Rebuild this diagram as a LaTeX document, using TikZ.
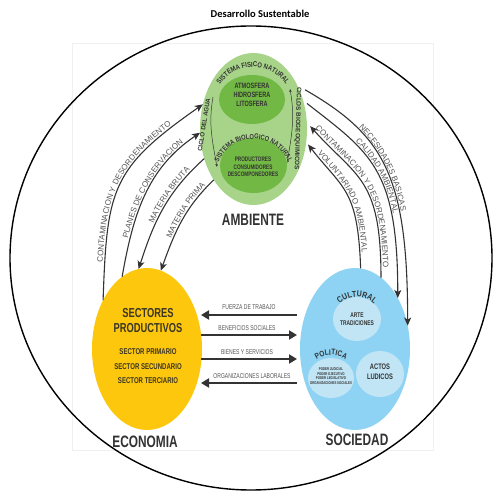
\documentclass[tikz,border=0pt]{standalone}
\usepackage{fontspec}
\setmainfont{Liberation Sans}
\newfontfamily\cnd[FakeStretch=0.72]{Liberation Sans}
\newfontfamily\cndb[FakeStretch=0.82]{Liberation Sans}
\newfontfamily\ttl{Carlito}
\usetikzlibrary{shapes.geometric,arrows.meta,decorations.text}
\definecolor{ambO}{HTML}{A8D48A}
\definecolor{ambI}{HTML}{72B844}
\definecolor{ecoY}{HTML}{FDC70E}
\definecolor{socB}{HTML}{8ED3F4}
\definecolor{socI}{HTML}{C2E5F5}
\definecolor{dtext}{HTML}{333333}
\definecolor{etext}{HTML}{3B3626}
\definecolor{labg}{HTML}{555555}
\definecolor{arrc}{HTML}{333333}
\newcommand\myfs[2]{\fontsize{#1}{#2}\selectfont}
\newcommand\lfont{\myfs{8}{8}\color{labg}}
\begin{document}
\begin{tikzpicture}[x=1pt,y=1pt,
  blob/.style={ellipse, inner sep=0pt, outer sep=0pt, draw=none},
  txt/.style={inner sep=0pt, align=center, text=dtext},
  lbl/.style={inner sep=0pt, text=labg, font=\cnd\myfs{7}{7}},
  curv/.style={draw=arrc, line width=1.1pt},
  fwd/.style={-{Stealth[length=8pt,width=7pt,inset=2pt]}},
  bwd/.style={{Stealth[length=8pt,width=7pt,inset=2pt]}-},
  harr/.style={draw=arrc, line width=1.8pt},
  hf/.style={-{Triangle[length=8pt,width=9pt]}},
  hb/.style={{Triangle[length=8pt,width=9pt]}-},
  thinarr/.style={draw=arrc, line width=0.5pt, -{Stealth[length=3pt,width=2.5pt]}},
]
\useasboundingbox (0,0) rectangle (500,498);
\fill[white] (0,0) rectangle (500,498);
% faint background frame
\draw[black!6, line width=0.6pt] (72,48) rectangle (433,455);
% big circle
\node[ellipse, draw=black, line width=1.4pt, minimum width=482, minimum height=464, inner sep=0pt] (ds) at (251,240) {};
\node[font=\ttl\bfseries\myfs{10.5}{11}] (title) at (260,484) {Desarrollo Sustentable};

% AMBIENTE
\node[blob, fill=ambO, minimum width=107, minimum height=152] (amb) at (253.5,369) {};
\node[blob, fill=ambI, minimum width=66, minimum height=49] (fis) at (252,398.5) {};
\node[blob, fill=ambI, minimum width=67, minimum height=55] (bio) at (253.5,332.5) {};
\node[txt, font=\cnd\bfseries\myfs{7.7}{9}] (fist) at (252,403) {ATMOSFERA\\HIDROSFERA\\LITOSFERA};
\node[txt, font=\cnd\bfseries\myfs{6.5}{7.7}] (biot) at (253,331) {PRODUCTORES\\CONSUMIDORES\\DESCOMPONEDORES};
\path[decorate, decoration={text along path, text align=center,
  text={|\cndb\bfseries\myfs{7.2}{7}\color{dtext}|SISTEMA FISICO NATURAL}}]
  (253,391) ++(165:40) arc[start angle=165, end angle=15, radius=40];
\path[decorate, decoration={text along path, text align=center,
  text={|\cndb\bfseries\myfs{7}{7}\color{dtext}|SISTEMA BIOLOGICO NATURAL}}]
  (253.5,321) ++(170:38) arc[start angle=170, end angle=10, radius=38];
\node[txt, rotate=81, font=\bfseries\myfs{6.2}{6}] (agua) at (204,373) {CICLO DEL AGUA};
\node[txt, rotate=-91.5, font=\bfseries\myfs{6.3}{6}] (bgq) at (297.5,369.5) {CICLOS BIOGEOQUIMICOS};
\coordinate (wa) at (213,401); \coordinate (wb) at (217,331);
\draw[thinarr] (wa) to[out=-100,in=100] (wb);
\coordinate (ba) at (287,335); \coordinate (bb) at (290,409);
\draw[thinarr] (ba) to[out=80,in=-80] (bb);
\node[txt, font=\cnd\bfseries\myfs{16.5}{17}] (ambl) at (253,278) {AMBIENTE};

% ECONOMIA
\node[blob, fill=ecoY, minimum width=110, minimum height=162] (eco) at (147,149) {};
\node[txt, text=etext, font=\cnd\bfseries\myfs{13}{15}] (sp) at (148,177.5) {SECTORES\\PRODUCTIVOS};
\node[txt, text=etext, font=\cnd\bfseries\myfs{8.4}{14.5}] (sec) at (148,131.5) {SECTOR PRIMARIO\\SECTOR SECUNDARIO\\SECTOR TERCIARIO};
\node[txt, font=\cnd\bfseries\myfs{16.5}{17}] (ecol) at (145,56) {ECONOMIA};

% SOCIEDAD
\node[blob, fill=socB, minimum width=110, minimum height=162] (soc) at (355,149) {};
\node[blob, fill=socI, minimum width=48, minimum height=44] (cul) at (357,179) {};
\node[blob, fill=socI, minimum width=46, minimum height=40] (pol) at (331,120) {};
\node[blob, fill=socI, minimum width=48, minimum height=46] (lud) at (380,124) {};
\path[decorate, decoration={text along path, text align=center,
  text={|\cndb\bfseries\myfs{8.5}{9}\color{dtext}|CULTURAL}}]
  (357,176) ++(140:25) arc[start angle=140, end angle=40, radius=25];
\path[decorate, decoration={text along path, text align=center,
  text={|\cndb\bfseries\myfs{8}{8}\color{dtext}|POLITICA}}]
  (331,117) ++(140:26) arc[start angle=140, end angle=40, radius=26];
\node[txt, font=\cnd\bfseries\myfs{6.8}{8}] (cult) at (357,179) {ARTE\\TRADICIONES};
\node[txt, font=\cnd\bfseries\myfs{8}{10}] (ludt) at (380,126) {ACTOS\\LUDICOS};
\node[txt, font=\cnd\bfseries\myfs{4}{4.7}] (polt) at (331,122) {PODER JUDICIAL\\PODER EJECUTIVO\\PODER LEGISLATIVO\\ORGANIZACIONES SOCIALES};
\node[txt, font=\cnd\bfseries\myfs{16.5}{17}] (socl) at (357,58) {SOCIEDAD};

% horizontal arrows
\draw[harr, hb, shorten <=-1pt, shorten >=3pt] (eco.east |- 0,183) -- (soc.west |- 0,183);
\draw[harr, hf, shorten <=-1pt, shorten >=3pt] (eco.east |- 0,163) -- (soc.west |- 0,163);
\draw[harr, hf, shorten <=-1pt, shorten >=3pt] (eco.east |- 0,139) -- (soc.west |- 0,139);
\draw[harr, hb, shorten <=-1pt, shorten >=3pt] (eco.east |- 0,115) -- (soc.west |- 0,115);
\node[lbl] (h1) at (249,191) {FUERZA DE TRABAJO};
\node[lbl] (h2) at (247,170) {BENEFICIOS SOCIALES};
\node[lbl] (h3) at (247,146) {BIENES Y SERVICIOS};
\node[lbl] (h4) at (252,122) {ORGANIZACIONES LABORALES};

% left curved arrows
\draw[curv, fwd, postaction={decorate, decoration={text along path, text align=center, raise=2pt,
  text={|\lfont|CONTAMINACION Y DESORDENAMIENTO}}}]
  (eco.132) to[out=88,in=215,looseness=1.3] (amb.154);
\draw[curv, fwd, postaction={decorate, decoration={text along path, text align={center, left indent=19pt}, raise=2pt,
  text={|\lfont|PLANES DE  CONSERVACION}}}]
  (eco.109) to[out=80,in=214] (amb.184);
\draw[curv, bwd, postaction={decorate, decoration={text along path, text align={center, left indent=30pt}, raise=2pt,
  text={|\lfont|MATERIA BRUTA}}}]
  (eco.96) to[out=72,in=222] (amb.211.5);
\draw[curv, bwd, postaction={decorate, decoration={text along path, text align={center, left indent=24pt}, raise=2pt,
  text={|\lfont|MATERIA PRIMA}}}]
  (eco.80) to[out=70,in=224] (amb.232.6);

% right curved arrows
\draw[curv, fwd, shorten <=9pt, postaction={decorate, decoration={text along path, text align={center, right indent=40pt}, raise=2pt,
  text={|\lfont|NECESIDADES BASICAS}}}]
  (amb.45) .. controls +(-30:100) and +(90:150) .. (soc.24);
\draw[curv, fwd, shorten <=5pt, postaction={decorate, decoration={text along path, text align={center, right indent=18pt}, raise=2pt,
  text={|\lfont|CALIDAD AMBIENTAL}}}]
  (amb.30) .. controls +(-38:85) and +(90:130) .. (soc.50);
\draw[curv, bwd, shorten <=5pt, postaction={decorate, decoration={text along path, text align=center, raise=2pt,
  text={|\lfont|CONTAMINACION Y DESORDENAMIENTO}}}]
  (amb.7) .. controls +(-48:75) and +(90:100) .. (soc.70);
\draw[curv, bwd, shorten <=3pt, postaction={decorate, decoration={text along path, text align=center, raise=2pt,
  text={|\lfont|VOLUNTARIADO AMBIENTAL}}}]
  (amb.-14) .. controls +(-52:60) and +(92:80) .. (soc.86);
\end{tikzpicture}
\end{document}
